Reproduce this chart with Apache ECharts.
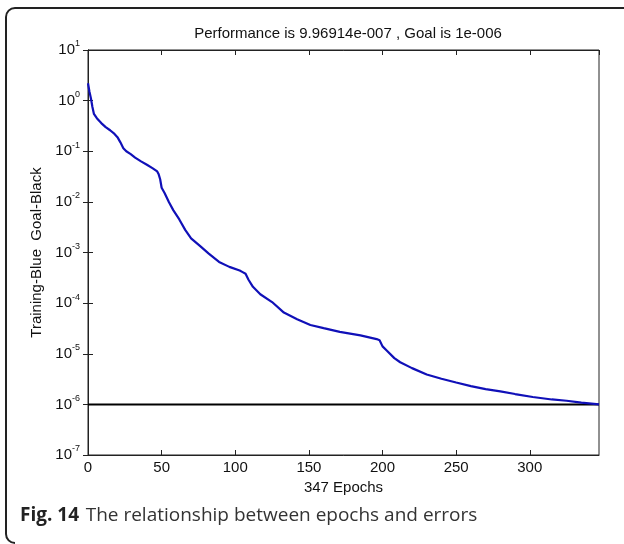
<!DOCTYPE html>
<html>
<head>
<meta charset="utf-8">
<script src="https://cdn.jsdelivr.net/npm/echarts@6/dist/echarts.min.js"></script>
<style>
html,body{margin:0;padding:0;background:#fff;}
#c{width:624px;height:544px;}
</style>
</head>
<body>
<div id="c"></div>
<script>
// Training performance (epoch, mean squared error)
const epochs = [0,1,2,3,4,6,9,12,15,18,20,22,24,26,29,32,36,40,44,47,48,49,50,52,55,58,62,66,70,76,82,89,96,103,105,107,109,112,117,125,133,142,151,160,171,185,196,198,200,203,208,212,220,230,240,250,260,270,280,290,302,315,325,335,347];
const errors = [2.2,1.5,1.1,0.75,0.55,0.45,0.36,0.3,0.26,0.22,0.19,0.15,0.115,0.1,0.088,0.075,0.063,0.054,0.046,0.04,0.035,0.028,0.019,0.015,0.0098,0.0068,0.0045,0.0028,0.0019,0.00135,0.00095,0.00065,0.00052,0.00044,0.00041,0.00038,0.00029,0.00021,0.00015,0.000105,0.000065,0.000048,0.000037,0.000032,0.000027,0.000023,0.0000195,0.0000185,0.000014,0.0000115,0.0000082,0.0000068,0.0000052,0.0000039,0.0000032,0.0000027,0.0000023,0.000002,0.0000018,0.0000016,0.0000014,0.00000125,0.00000118,0.00000108,0.000000997];
const goalEpochs = [0,347];
const goalValues = [1e-6,1e-6];
const xTicks = [0,50,100,150,200,250,300];
const titleText = 'Performance is 9.96914e-007 , Goal is 1e-006';
const xName = '347 Epochs';
const yName = 'Training-Blue  Goal-Black';

const FONT = '"Liberation Sans", Arial, sans-serif';
const chart = echarts.init(document.getElementById('c'), null, {renderer:'canvas'});

const trainData = epochs.map((e,i)=>[e, errors[i]]);
const goalData = goalEpochs.map((e,i)=>[e, goalValues[i]]);

const yLabelFmt = v => {
  const ex = Math.round(Math.log10(v));
  return '{b|10}{e|' + ex + '}';
};

const option = {
  animation:false,
  backgroundColor:'#fff',
  title:{
    text:titleText, left:343, top:21, textAlign:'center',
    textStyle:{fontFamily:FONT, fontSize:15, fontWeight:'normal', color:'#111'}
  },
  grid:{left:88, right:25, top:50, bottom:89, show:true, borderColor:'#222', borderWidth:1, backgroundColor:'transparent'},
  xAxis:[{
    type:'value', min:0, max:347, interval:50, position:'bottom',
    name:xName, nameLocation:'middle', nameGap:22,
    nameTextStyle:{fontFamily:FONT, fontSize:15, color:'#111'},
    axisLine:{show:true, lineStyle:{color:'#222', width:1}},
    axisTick:{show:true, inside:true, length:5, lineStyle:{color:'#222'}},
    axisLabel:{fontFamily:FONT, fontSize:15, color:'#111', margin:5, showMaxLabel:false,
      formatter:v => xTicks.includes(v) ? String(v) : ''},
    splitLine:{show:false}
  },{
    type:'value', min:0, max:347, interval:50, position:'top',
    axisLine:{show:true, lineStyle:{color:'#222'}},
    axisTick:{show:true, inside:true, length:5, lineStyle:{color:'#222'}},
    axisLabel:{show:false}, splitLine:{show:false}
  }],
  yAxis:[{
    type:'log', logBase:10, min:1e-7, max:10, interval:1, position:'left',
    name:yName, nameLocation:'middle', nameGap:41, nameRotate:90,
    nameTextStyle:{fontFamily:FONT, fontSize:15, color:'#111'},
    axisLine:{show:true, lineStyle:{color:'#222'}},
    axisTick:{show:true, inside:true, length:5, lineStyle:{color:'#222'}},
    axisLabel:{margin:8, formatter:yLabelFmt,
      rich:{
        b:{fontFamily:FONT, fontSize:15, color:'#111'},
        e:{fontFamily:FONT, fontSize:9, color:'#111', padding:[0,0,12,0]}
      }},
    splitLine:{show:false}
  },{
    type:'log', logBase:10, min:1e-7, max:10, interval:1, position:'right',
    axisLine:{show:true, lineStyle:{color:'#222'}},
    axisTick:{show:true, inside:true, length:5, lineStyle:{color:'#222'}},
    axisLabel:{show:false}, splitLine:{show:false}
  }],
  series:[{
    type:'line', data:goalData, xAxisIndex:0, yAxisIndex:0, symbol:'none',
    lineStyle:{color:'#000', width:2}, z:2
  },{
    type:'line', data:trainData, xAxisIndex:0, yAxisIndex:0, symbol:'none',
    lineStyle:{color:'#1010b8', width:2.2}, z:3
  }],
  graphic:[
    {type:'line', silent:true, shape:{x1:15, y1:8, x2:624, y2:8}, style:{stroke:'#222', lineWidth:2}},
    {type:'arc', silent:true, shape:{cx:15, cy:17, r:9, startAngle:Math.PI, endAngle:Math.PI*1.5}, style:{stroke:'#222', lineWidth:2, fill:null}},
    {type:'line', silent:true, shape:{x1:6, y1:17, x2:6, y2:534}, style:{stroke:'#222', lineWidth:2}},
    {type:'arc', silent:true, shape:{cx:15, cy:534, r:9, startAngle:Math.PI*0.5, endAngle:Math.PI}, style:{stroke:'#222', lineWidth:2, fill:null}},
    {type:'text', silent:true, left:20, top:506,
      style:{
        text:'{b|Fig. 14}  {r|The relationship between epochs and errors}',
        rich:{
          b:{fontFamily:'"Open Sans", sans-serif', fontSize:19, fontWeight:'bold', fill:'#222'},
          r:{fontFamily:'"Open Sans", sans-serif', fontSize:19, fill:'#333'}
        }
      }
    }
  ]
};
chart.setOption(option);
</script>
</body>
</html>
